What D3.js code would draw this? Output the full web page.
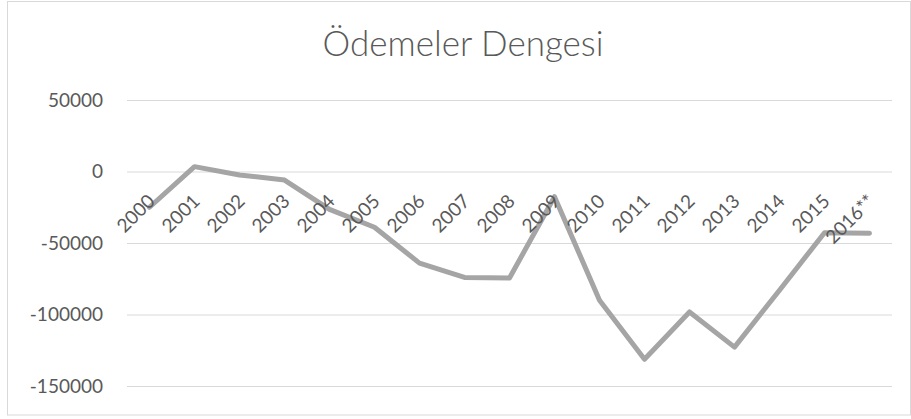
<!DOCTYPE html>
<html>
<head>
<meta charset="utf-8">
<script src="https://cdn.jsdelivr.net/npm/d3@7"></script>
<style>
  html, body { margin: 0; padding: 0; background: #fff; }
  svg { display: block; }
  text { font-family: "Lato", "Open Sans", sans-serif; fill: #595959; }
</style>
</head>
<body>
<svg id="chart" width="911" height="419"></svg>
<script>
// Balance of payments, yearly
const years = ["2000","2001","2002","2003","2004","2005","2006","2007","2008",
               "2009","2010","2011","2012","2013","2014","2015","2016**"];
const balance = [-25000, 3400, -2400, -6000, -26500, -39000, -64100, -74100, -74500,
                 -17600, -90000, -131300, -98200, -122800, -83000, -42800, -43200];
const yTicks = [50000, 0, -50000, -100000, -150000];
const title = "Ödemeler Dengesi";

const plot = { left: 127, right: 892, top: 100, bottom: 386 };

const svg = d3.select("#chart");

// outer chart frame
svg.append("rect")
  .attr("x", 7.5).attr("y", 1.5)
  .attr("width", 903).attr("height", 413.5)
  .attr("fill", "#fff").attr("stroke", "#D9D9D9").attr("stroke-width", 1);

const x = d3.scalePoint().domain(years).range([plot.left, plot.right]).padding(0.5);
const y = d3.scaleLinear().domain([-150000, 50000]).range([plot.bottom, plot.top]);

// title
svg.append("text")
  .attr("x", 463).attr("y", 56)
  .attr("text-anchor", "middle")
  .style("font-size", "35px")
  .style("font-weight", 300)
  .text(title);

// horizontal gridlines + value labels
const yAxis = d3.axisLeft(y).tickValues(yTicks)
  .tickSize(-(plot.right - plot.left)).tickPadding(24)
  .tickFormat(d => String(d));
const gy = svg.append("g")
  .attr("transform", `translate(${plot.left},0)`)
  .call(yAxis);
gy.select(".domain").remove();
gy.selectAll(".tick line").attr("stroke", "#D9D9D9").attr("stroke-width", 1.2);
gy.selectAll(".tick text")
  .style("font-size", "19px").attr("fill", "#595959")
  .style("font-family", "Lato, 'Open Sans', sans-serif");

// the series line
const line = d3.line()
  .x((d, i) => x(years[i]))
  .y(d => y(d));
svg.append("path")
  .datum(balance)
  .attr("d", line)
  .attr("fill", "none")
  .attr("stroke", "#A5A5A5")
  .attr("stroke-width", 5)
  .attr("stroke-linejoin", "round")
  .attr("stroke-linecap", "round");

// category labels, rotated, hanging from the zero line
const xAxis = d3.axisBottom(x).tickSize(0).tickPadding(0);
const gx = svg.append("g")
  .attr("transform", `translate(0,${y(0)})`)
  .call(xAxis);
gx.select(".domain").remove();
gx.selectAll(".tick text")
  .attr("y", 0).attr("dy", 0)
  .attr("text-anchor", "end")
  .attr("transform", "translate(6,31) rotate(-45)")
  .style("font-size", "19px").attr("fill", "#595959")
  .style("font-family", "Lato, 'Open Sans', sans-serif");
</script>
</body>
</html>
